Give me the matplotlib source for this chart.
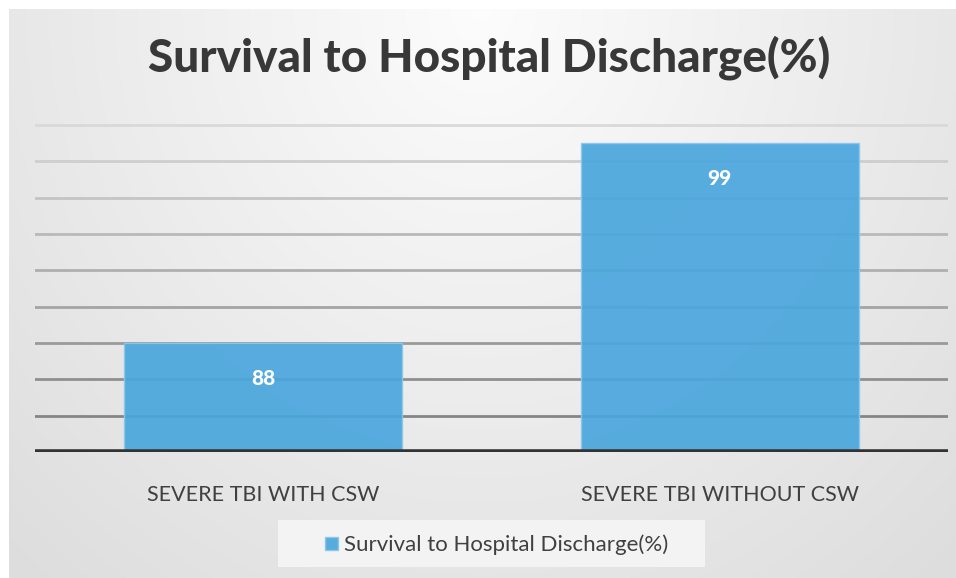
import matplotlib.pyplot as plt
import numpy as np
from matplotlib.patches import Rectangle

# data
categories = ['SEVERE TBI WITH CSW', 'SEVERE TBI WITHOUT CSW']
survival = [88, 99]
series_name = 'Survival to Hospital Discharge(%)'
y_ticks = [84, 86, 88, 90, 92, 94, 96, 98, 100]

bar_color = '#4aa6dd'
text_color = '#404040'

fig = plt.figure(figsize=(9.56, 5.78), dpi=100)
fig.patch.set_facecolor('white')

# grey gradient background panel
bg = fig.add_axes([9 / 956, 0, 1 - 9 / 956, 1 - 9 / 578])
gx, gy = np.meshgrid(np.linspace(-1, 1, 400), np.linspace(0, 1, 240))
r = np.sqrt((gx * 0.9) ** 2 + (gy * 1.0) ** 2)
shade = 0.99 - 0.12 * np.clip(r, 0, 1.3) / 1.3
bg.imshow(np.dstack([shade, shade, shade]), aspect='auto', extent=[0, 1, 0, 1],
          origin='upper')
bg.axis('off')

# main axes
ax = fig.add_axes([35 / 956, (578 - 452) / 578, 913 / 956, (452 - 110) / 578])
ax.set_facecolor('none')
ax.set_xlim(-0.5, 1.5)
ax.set_ylim(82, 100 + (125 - 110) / 18.3)

grid_grays = np.linspace(0.85, 0.52, len(y_ticks))[::-1]
for val, g in zip(y_ticks, grid_grays):
    ax.axhline(val, color=(g, g, g), lw=2, zorder=1)

x = np.arange(len(categories))
bars = ax.bar(x, [v - 82 for v in survival], bottom=82, width=0.61,
              color=bar_color, alpha=0.92, edgecolor='#8cc8ec', lw=1,
              zorder=2, label=series_name)
ax.axhline(82, color='#333333', lw=4, zorder=3)

for xi, v in zip(x, survival):
    ax.text(xi, v - 1.95, str(v), ha='center', va='center', color='white',
            fontsize=15, fontweight='black', family='Lato', zorder=4)

for s in ax.spines.values():
    s.set_visible(False)
ax.set_yticks([])
ax.set_xticks(x)
ax.set_xticklabels(categories, fontsize=15.5, color=text_color, family='Lato')
ax.tick_params(axis='x', length=0, pad=24)

fig.text(0.512, 0.9, 'Survival to Hospital Discharge(%)', ha='center',
         va='center', fontsize=33, fontweight='black', color='#383838',
         family='Lato')

# legend box
fig.patches.append(Rectangle((278 / 956, 1 - 567 / 578), 427 / 956, 47 / 578,
                             transform=fig.transFigure, facecolor='#f3f3f3',
                             edgecolor='none', zorder=0))
leg = fig.legend(handles=[bars], labels=[series_name], loc='center',
                 bbox_to_anchor=(497 / 956, 1 - 545 / 578), frameon=False,
                 handlelength=0.55, handleheight=0.55, handletextpad=0.3,
                 borderaxespad=0, prop={'family': 'Lato', 'size': 16})
for t in leg.get_texts():
    t.set_color(text_color)

fig.savefig('out.png', dpi=100)
